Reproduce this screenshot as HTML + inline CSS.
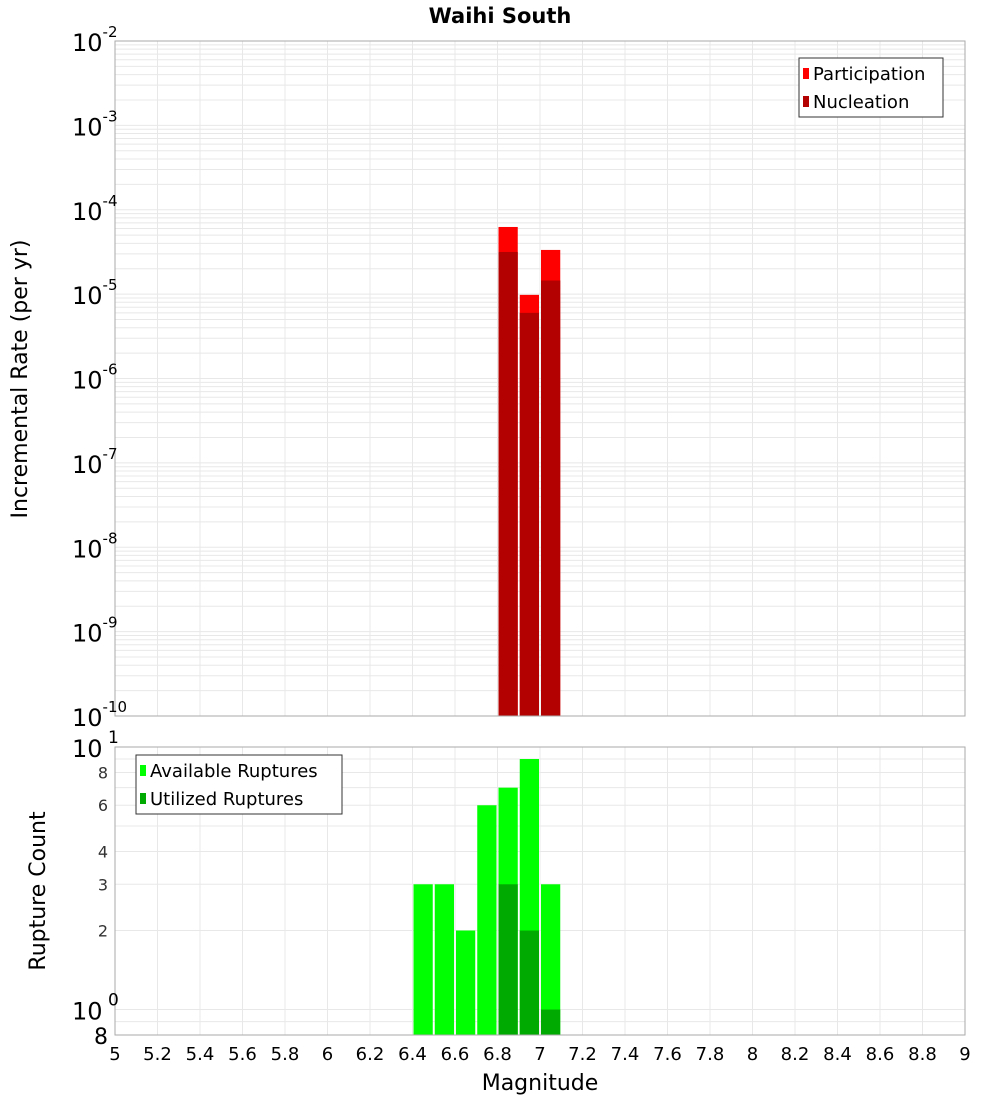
<!DOCTYPE html>
<html><head><meta charset="utf-8"><style>
body{margin:0;background:#fff;width:1000px;height:1100px;overflow:hidden;font-family:"DejaVu Sans","Liberation Sans",sans-serif}
svg text{font-family:"DejaVu Sans","Liberation Sans",sans-serif}
</style></head><body>
<svg id="chart" width="1000" height="1100" xmlns="http://www.w3.org/2000/svg">
<text x="500" y="23" text-anchor="middle" font-size="21" font-weight="bold">Waihi South</text>
<g id="topPlot"></g><g id="botPlot"></g>
<text transform="translate(27,379) rotate(-90)" text-anchor="middle" font-size="22">Incremental Rate (per yr)</text>
<text transform="translate(45,891) rotate(-90)" text-anchor="middle" font-size="22">Rupture Count</text>
<text x="540" y="1090" text-anchor="middle" font-size="22">Magnitude</text>
</svg>
<script>
const bins=[6.45,6.55,6.65,6.75,6.85,6.95,7.05];
const participation=[null,null,null,null,6.25e-5,9.8e-6,3.34e-5];
const nucleation=[null,null,null,null,3.16e-5,6.0e-6,1.45e-5];
const available=[3,3,2,6,7,9,3];
const utilized=[null,null,null,null,3,2,1];
const xTicks=[5,5.2,5.4,5.6,5.8,6,6.2,6.4,6.6,6.8,7,7.2,7.4,7.6,7.8,8,8.2,8.4,8.6,8.8,9];
const topExps=[-2,-3,-4,-5,-6,-7,-8,-9,-10];
const botTicks=[8,6,4,3,2];

const NS='http://www.w3.org/2000/svg';
const L=115,R=965;
const xs=v=>L+(v-5)*(R-L)/4;
const T1=41,B1=716,yT=v=>T1+(-2-Math.log10(v))*(B1-T1)/8;
const T2=747,B2=1035,yB=v=>T2+(1-Math.log10(v))*(B2-T2)/(1-Math.log10(0.8));
function el(p,tag,a,name){const e=document.createElementNS(NS,tag);for(const k in a)e.setAttribute(k,a[k]);


p.appendChild(e);return e;}
const topG=document.getElementById('topPlot'),botG=document.getElementById('botPlot');
function vgrid(g,t,b){xTicks.forEach(v=>el(g,'line',{x1:xs(v),x2:xs(v),y1:t,y2:b,stroke:'#e8e8e8'},'x-grid-line'));}
for(let e=-10;e<-2;e++)for(let m=1;m<10;m++){const y=yT(m*Math.pow(10,e));el(topG,'line',{x1:L,x2:R,y1:y,y2:y,stroke:'#e8e8e8'},'y-grid-line');}
vgrid(topG,T1,B1);
[0.8,0.9,1,2,3,4,5,6,7,8,9].forEach(v=>{const y=yB(v);el(botG,'line',{x1:L,x2:R,y1:y,y2:y,stroke:'#e8e8e8'},'y-grid-line');});
vgrid(botG,T2,B2);
bins.forEach((c,i)=>{const x0=xs(c-0.05)+1,w=xs(c+0.05)-xs(c-0.05)-2;
 if(participation[i]){const y=yT(participation[i]);el(topG,'rect',{x:x0,y:y,width:w,height:B1-y,fill:'#ff0000'},'participation-bar');}
 if(nucleation[i]){const y=yT(nucleation[i]);el(topG,'rect',{x:x0,y:y,width:w,height:B1-y,fill:'#b30000'},'nucleation-bar');}
 if(available[i]){const y=yB(available[i]);el(botG,'rect',{x:x0,y:y,width:w,height:B2-y,fill:'#00ff00'},'available-bar');}
 if(utilized[i]){const y=yB(utilized[i]);el(botG,'rect',{x:x0,y:y,width:w,height:B2-y,fill:'#00aa00'},'utilized-bar');}
});
el(topG,'rect',{x:L,y:T1,width:R-L,height:B1-T1,fill:'none',stroke:'#aaa'},'top-plot-frame');
el(botG,'rect',{x:L,y:T2,width:R-L,height:B2-T2,fill:'none',stroke:'#aaa'},'bottom-plot-frame');
topExps.forEach(e=>{const y=yT(Math.pow(10,e));const t=el(topG,'text',{x:72,y:y+10,'font-size':24},'y-tick-label');
 t.textContent='10';const s=el(t,'tspan',{dy:-14,'font-size':15},'y-tick-exponent');s.textContent=String(e);});
[[10,'1'],[1,'0']].forEach(([v,e])=>{const y=yB(v);const t=el(botG,'text',{x:72,y:y+10,'font-size':24},'y-tick-label');
 t.textContent='10';const s=el(t,'tspan',{dy:-14,'font-size':17},'y-tick-exponent');s.textContent=' '+e;});
botTicks.forEach(v=>{const t=el(botG,'text',{x:108,y:yB(v)+6,'font-size':16,'text-anchor':'end',fill:'#333'},'y-tick-label');t.textContent=v;});
{const t=el(botG,'text',{x:108,y:1044,'font-size':22,'text-anchor':'end'},'y-tick-label');t.textContent='8';}
xTicks.forEach(v=>{const t=el(botG,'text',{x:xs(v),y:1060,'font-size':18,'text-anchor':'middle'},'x-tick-label');t.textContent=String(v);});
function legend(g,x0,y0,w,items,name){el(g,'rect',{x:x0,y:y0,width:w,height:59,fill:'#fff',stroke:'#333'},name);
 items.forEach(([c,l],i)=>{const yy=y0+15+i*28;el(g,'rect',{x:x0+4,y:yy-5,width:6,height:11,fill:c},'legend-swatch');
 const t=el(g,'text',{x:x0+14,y:yy+7,'font-size':18},'legend-label');t.textContent=l;});}
legend(topG,799,58,144,[['#ff0000','Participation'],['#b30000','Nucleation']],'top-legend');
legend(botG,136,755,206,[['#00ff00','Available Ruptures'],['#00aa00','Utilized Ruptures']],'bottom-legend');
</script>
</body></html>
